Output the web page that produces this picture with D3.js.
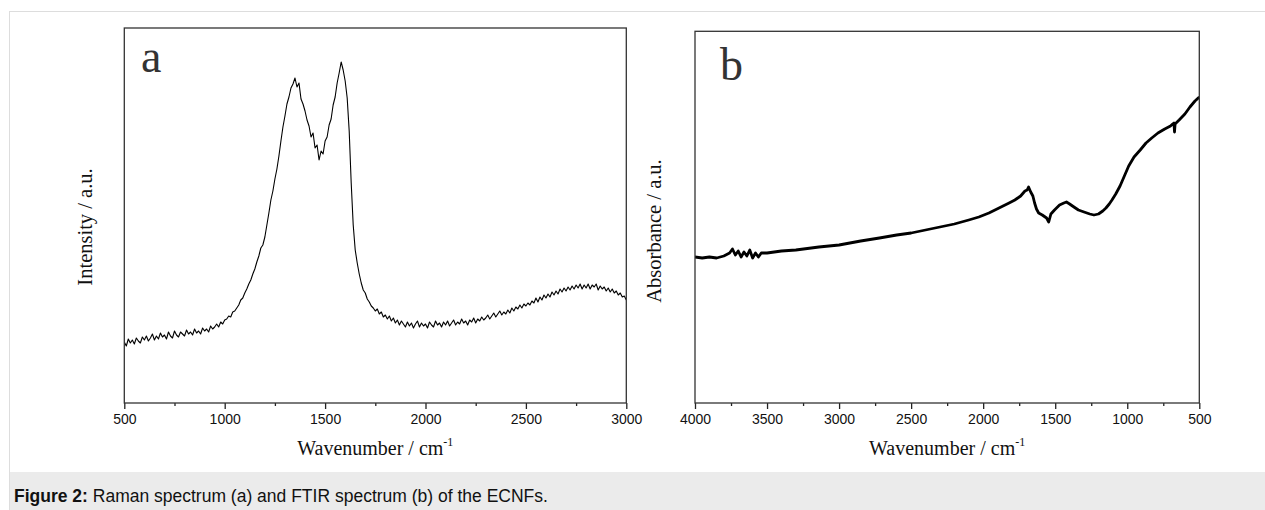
<!DOCTYPE html>
<html>
<head>
<meta charset="utf-8">
<script src="https://cdn.jsdelivr.net/npm/d3@7"></script>
<style>
  body { margin: 0; background: #fff; }
  svg { display: block; }
</style>
</head>
<body>
<div id="chart-container"></div>
<script>
// Raman spectrum (a): sampled every 10 cm-1 from 500 to 3000
const ramanWavenumber = d3.range(500, 3001, 10);
const ramanIntensity = [
  61, 57, 64, 60, 63, 59, 65, 62, 60, 66,
  63, 67, 62, 65, 69, 63, 67, 64, 70, 66,
  68, 64, 71, 67, 65, 72, 68, 66, 71, 69,
  67, 73, 69, 71, 68, 74, 70, 72, 69, 75,
  72, 74, 71, 77, 74, 76, 79, 76, 81, 79,
  83, 84, 87, 86, 91, 92, 95, 98, 103, 105,
  110, 114, 119, 123, 129, 134, 141, 147, 155, 158,
  166, 178, 190, 203, 212, 224, 234, 247, 262, 276,
  287, 299, 306, 315, 319, 325, 316, 320, 304, 299,
  292, 283, 277, 266, 270, 255, 258, 243, 252, 249,
  262, 266, 278, 284, 298, 306, 320, 330, 341, 333,
  322, 305, 272, 220, 178, 153, 140, 129, 120, 113,
  110, 104, 101, 97, 95, 92, 94, 89, 91, 86,
  88, 84, 87, 82, 85, 80, 83, 78, 82, 79,
  76, 81, 77, 80, 75, 79, 82, 76, 80, 77,
  79, 75, 81, 78, 76, 82, 78, 80, 76, 81,
  78, 82, 77, 80, 83, 78, 81, 79, 84, 80,
  82, 78, 83, 81, 85, 80, 84, 82, 86, 83,
  85, 88, 84, 87, 90, 86, 89, 92, 88, 91,
  89, 93, 90, 95, 92, 96, 94, 98, 95, 99,
  97, 100, 98, 102, 100, 105, 101, 106, 103, 108,
  105, 109, 106, 111, 108, 112, 109, 114, 111, 115,
  112, 116, 113, 117, 114, 118, 115, 119, 114, 118,
  115, 119, 114, 118, 116, 119, 113, 117, 114, 116,
  112, 115, 111, 114, 110, 112, 108, 110, 106, 107,
  103
];

// FTIR spectrum (b)
const ftirWavenumber = [
  4000, 3950, 3900, 3850, 3800, 3760, 3740, 3720, 3700, 3680,
  3660, 3640, 3620, 3600, 3580, 3560, 3540, 3500, 3400, 3300,
  3140, 3000, 2850, 2720, 2600, 2500, 2400, 2300, 2200, 2100,
  2030, 1960, 1890, 1820, 1780, 1740, 1710, 1695, 1685, 1670,
  1655, 1643, 1630, 1615, 1590, 1560, 1545, 1530, 1505, 1470,
  1440, 1422, 1400, 1370, 1339, 1300, 1260, 1231, 1200, 1170,
  1148, 1125, 1106, 1080, 1050, 1023, 990, 953, 910, 870,
  830, 787, 740, 700, 685, 676, 672, 668, 640, 600,
  565, 530, 500
];
const ftirAbsorbance = [
  146, 145, 146, 145, 147, 150, 154, 148, 152, 146,
  151, 147, 153, 145, 150, 146, 150, 150, 152, 153,
  156, 158, 162, 165, 168, 170, 173, 176, 179, 183,
  186, 190, 195, 200, 203, 207, 212, 213, 216, 211,
  207, 200, 194, 190, 188, 185, 181, 189, 193, 198,
  200, 201, 199, 196, 193, 191, 189, 188, 189, 192,
  195, 199, 203, 209, 217, 226, 237, 246, 253, 260,
  265, 270, 274, 277, 279, 280, 271, 279, 283, 289,
  296, 302, 306
];

const ramanTicks = [500, 1000, 1500, 2000, 2500, 3000];
const ftirTicks = [4000, 3500, 3000, 2500, 2000, 1500, 1000, 500];
const caption = ["Figure 2:", " Raman spectrum (a) and FTIR spectrum (b) of the ECNFs."];

const W = 1265, H = 510;

const svg = d3.select("#chart-container")
  .append("svg")
  .attr("width", W)
  .attr("height", H);

// figure frame + caption band
svg.append("line")
  .attr("x1", 9).attr("x2", W).attr("y1", 11.5).attr("y2", 11.5)
  .attr("stroke", "#dddddd");
svg.append("line")
  .attr("x1", 9.5).attr("x2", 9.5).attr("y1", 11.5).attr("y2", H)
  .attr("stroke", "#dddddd");
svg.append("rect")
  .attr("x", 10).attr("y", 472)
  .attr("width", W - 10).attr("height", H - 472)
  .attr("fill", "#ebebeb");

const cap = svg.append("text")
  .attr("x", 14)
  .attr("y", 502)
  .attr("font-family", "Liberation Sans, Arial, sans-serif")
  .attr("font-size", 17.5)
  .attr("fill", "#111");
cap.append("tspan").attr("font-weight", "bold").text(caption[0]);
cap.append("tspan").text(caption[1]);

function panel(opts) {
  const g = svg.append("g");
  const x = d3.scaleLinear().domain(opts.xDomain).range([opts.left, opts.right]);
  const y = d3.scaleLinear().domain(opts.yDomain).range([opts.bottom, opts.top]);

  const clipId = "clip-" + opts.letter;
  svg.append("defs").append("clipPath").attr("id", clipId)
    .append("rect")
    .attr("x", opts.left).attr("y", opts.top)
    .attr("width", opts.right - opts.left).attr("height", opts.bottom - opts.top);

  const pts = opts.xs.map((w, i) => [w, opts.ys[i]]);
  g.append("path")
    .datum(pts)
    .attr("clip-path", `url(#${clipId})`)
    .attr("fill", "none")
    .attr("stroke", "#000")
    .attr("stroke-width", opts.lineWidth)
    .attr("stroke-linejoin", "round")
    .attr("d", d3.line().x(d => x(d[0])).y(d => y(d[1])));

  // minor ticks
  const minor = [];
  for (let i = 0; i < opts.ticks.length - 1; i++) minor.push((opts.ticks[i] + opts.ticks[i + 1]) / 2);
  g.append("g")
    .attr("transform", `translate(0,${opts.bottom})`)
    .call(d3.axisBottom(x).tickValues(minor).tickSize(3).tickFormat(""))
    .call(a => a.select(".domain").remove())
    .selectAll("line").attr("stroke", "#222").attr("stroke-width", 1.3);

  const ax = g.append("g")
    .attr("transform", `translate(0,${opts.bottom})`)
    .call(d3.axisBottom(x).tickValues(opts.ticks).tickSize(6).tickPadding(5).tickFormat(d3.format("d")));
  ax.select(".domain").remove();
  ax.selectAll("line").attr("stroke", "#222").attr("stroke-width", 1.3);
  ax.selectAll("text")
    .attr("font-family", "Liberation Sans, Arial, sans-serif")
    .attr("font-size", 14)
    .attr("fill", "#111");

  g.append("rect")
    .attr("x", opts.left).attr("y", opts.top)
    .attr("width", opts.right - opts.left).attr("height", opts.bottom - opts.top)
    .attr("fill", "none")
    .attr("stroke", "#333")
    .attr("stroke-width", 1.3);

  g.append("text")
    .attr("x", opts.letterX).attr("y", opts.letterY)
    .attr("font-family", "Liberation Serif, Times New Roman, serif")
    .attr("font-size", 46)
    .attr("fill", "#333")
    .text(opts.letter);

  const xt = g.append("text")
    .attr("x", (opts.left + opts.right) / 2)
    .attr("y", 455)
    .attr("text-anchor", "middle")
    .attr("font-family", "Liberation Serif, Times New Roman, serif")
    .attr("font-size", 20)
    .attr("fill", "#111");
  xt.append("tspan").text("Wavenumber / cm");
  xt.append("tspan").attr("dy", -9).attr("font-size", 12).text("-1");

  g.append("text")
    .attr("transform", `translate(${opts.yTitleX},${opts.yTitleY}) rotate(-90)`)
    .attr("text-anchor", "middle")
    .attr("font-family", "Liberation Serif, Times New Roman, serif")
    .attr("font-size", 20.5)
    .attr("fill", "#111")
    .text(opts.yTitle);
}

panel({
  letter: "a", letterX: 141, letterY: 72,
  left: 124.3, right: 626.3, top: 28, bottom: 403,
  xDomain: [500, 3000], yDomain: [0, 375],
  xs: ramanWavenumber, ys: ramanIntensity, lineWidth: 1.1,
  ticks: ramanTicks,
  yTitle: "Intensity / a.u.", yTitleX: 92, yTitleY: 227
});

panel({
  letter: "b", letterX: 720, letterY: 80,
  left: 695, right: 1199.3, top: 31.3, bottom: 403,
  xDomain: [4000, 500], yDomain: [0, 371.7],
  xs: ftirWavenumber, ys: ftirAbsorbance, lineWidth: 2.8,
  ticks: ftirTicks,
  yTitle: "Absorbance / a.u.", yTitleX: 661, yTitleY: 231
});
</script>
</body>
</html>
